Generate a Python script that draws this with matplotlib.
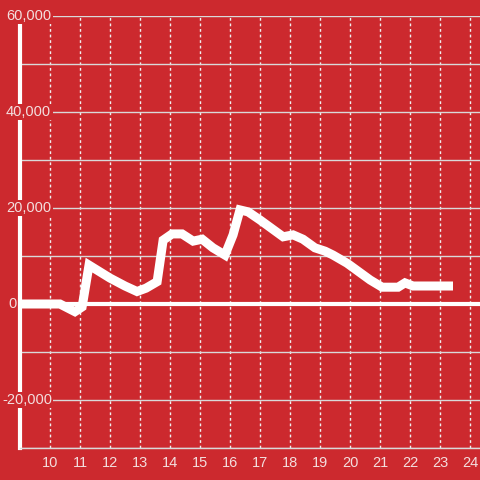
import matplotlib
matplotlib.use("Agg")
import matplotlib.pyplot as plt
from matplotlib.ticker import MultipleLocator

# hour of day vs. value
hours = [9.0, 10.33, 10.83, 11.07, 11.3, 12.0, 12.5, 12.9, 13.2, 13.57, 13.77,
         14.07, 14.4, 14.77, 15.07, 15.43, 15.83, 16.1, 16.33, 16.6, 17.0,
         17.77, 18.1, 18.43, 18.83, 19.17, 19.43, 19.9, 20.67, 21.07, 21.6,
         21.83, 22.1, 23.28]
values = [0, 0, -1600, -600, 8100, 5400, 3750, 2600, 3300, 4650, 13300,
          14600, 14600, 13100, 13500, 11700, 10200, 14400, 19600, 19200, 17500,
          14000, 14400, 13500, 11700, 11000, 10200, 8500, 5000, 3500, 3500,
          4400, 3750, 3750]

x_ticks = list(range(10, 25))
y_labels = [-20000, 0, 20000, 40000, 60000]

BG = "#cc292e"
TXT = "#f3dede"

fig = plt.figure(figsize=(4.8, 4.8), dpi=100, facecolor=BG)
ax = fig.add_axes([20 / 480, 32 / 480, 460 / 480, 432 / 480])
ax.set_facecolor(BG)

ax.set_xlim(9, 24.33)
ax.set_ylim(-30000, 60000)

# grid
ax.yaxis.set_major_locator(MultipleLocator(10000))
ax.xaxis.set_major_locator(MultipleLocator(1))
ax.grid(axis="y", color="#d9d9d9", linewidth=1)
ax.grid(axis="x", color="#f0f0f0", linewidth=1, linestyle=(0, (2, 2)))
ax.set_axisbelow(True)

ax.axhline(0, color="white", linewidth=3, zorder=2)
ax.plot(hours, values, color="white", linewidth=6.5, solid_joinstyle="miter",
        solid_capstyle="projecting", zorder=3)

for s in ["top", "right"]:
    ax.spines[s].set_visible(False)
ax.spines["left"].set_color("white")
ax.spines["left"].set_linewidth(3)
ax.spines["bottom"].set_color("#d9d9d9")
ax.spines["bottom"].set_linewidth(1)

ax.tick_params(axis="both", length=0)
ax.set_yticklabels([])
ax.set_xticks(x_ticks)
ax.set_xticklabels([str(h) for h in x_ticks], color=TXT, fontsize=10.5,
                   family="Liberation Sans")
ax.tick_params(axis="x", pad=6)

# y labels sit over the left edge, left aligned, with a background patch
for v in y_labels:
    x_px = 2 if v < 0 else (8 if v == 0 else 6)
    kw = {} if v == 0 else dict(bbox=dict(facecolor=BG, edgecolor="none", pad=1))
    y_px = ax.transData.transform((9, v))[1]
    fig.text(x_px / 480, y_px / 480, f"{v:,}", ha="left", va="center",
             color=TXT, fontsize=10.5, family="Liberation Sans", zorder=5, **kw)

plt.savefig("out.png", dpi=100, facecolor=BG)
